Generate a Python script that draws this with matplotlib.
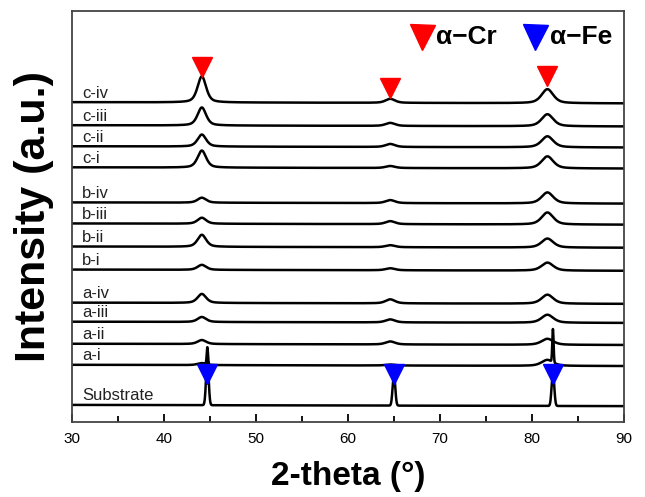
import numpy as np
import matplotlib
matplotlib.use('Agg')
from matplotlib import pyplot as plt

plt.rcParams['font.family'] = ['Liberation Sans', 'DejaVu Sans']

# sample names, bottom to top
labels = ['Substrate', 'a-i', 'a-ii', 'a-iii', 'a-iv', 'b-i', 'b-ii', 'b-iii', 'b-iv',
          'c-i', 'c-ii', 'c-iii', 'c-iv']
# vertical offsets of each pattern (stacked plot)
offsets = [17, 57, 78, 100, 119, 152, 175, 198, 219, 254, 275, 296, 319]

# alpha-Cr peak positions and heights per sample
cr_pos = [44.1, 64.6, 81.7]
cr_h = [
    [0, 0, 0],
    [2, 1, 6],
    [4, 3, 6],
    [5, 3, 8],
    [9, 4, 9],
    [5, 2, 8],
    [12, 2, 9],
    [6, 3, 12],
    [5, 3, 11],
    [17, 2, 12],
    [12, 3, 11],
    [18, 3, 12],
    [26, 4, 14],
]
cr_w = [0.55, 0.6, 0.75]

# alpha-Fe (substrate) peaks
fe_pos = [44.7, 65.0, 82.3]
sub_h = [45, 32, 34]
ai_spike = [17, 0, 33]

# marker positions
cr_mark_y = [354, 333, 345]
fe_mark_y = [48, 48, 48]


def peak(x, c, w):
    lor = 1.0 / (1.0 + ((x - c) / w) ** 2)
    gau = np.exp(-np.log(2) * ((x - c) / w) ** 2)
    return 0.5 * lor + 0.5 * gau


def run():
    x = np.linspace(30, 90, 3000)
    fig = plt.figure(figsize=(6.45, 4.97), dpi=100)
    ax = fig.add_axes([0.112, 0.151, 0.855, 0.827])

    for i, name in enumerate(labels):
        y = np.full_like(x, offsets[i]) - (x - 30) * 0.02
        for j in range(3):
            y += cr_h[i][j] * peak(x, cr_pos[j], cr_w[j])
        if name == 'Substrate':
            for j in range(3):
                y += sub_h[j] * np.exp(-0.5 * ((x - fe_pos[j]) / 0.14) ** 2)
        if name == 'a-i':
            for j in range(3):
                y += ai_spike[j] * np.exp(-0.5 * ((x - fe_pos[j]) / 0.07) ** 2)
        ax.plot(x, y, color='black', lw=1.8)
        ax.text(31.1, offsets[i] + 1.5, name, fontsize=12, color='#222222',
                ha='left', va='bottom')

    ax.plot(cr_pos, cr_mark_y, 'v', color='red', markersize=15, ls='none')
    ax.plot(fe_pos, fe_mark_y, 'v', color='blue', markersize=15, ls='none')

    # legend
    ax.plot([0.634], [0.937], 'v', color='red', markersize=18, transform=ax.transAxes)
    ax.text(0.659, 0.937, 'α−Cr', transform=ax.transAxes, fontsize=19,
            fontweight='bold', va='center')
    ax.plot([0.839], [0.937], 'v', color='blue', markersize=18, transform=ax.transAxes)
    ax.text(0.866, 0.937, 'α−Fe', transform=ax.transAxes, fontsize=19,
            fontweight='bold', va='center')

    ax.set_xlim(30, 90)
    ax.set_ylim(0, 410)
    ax.set_xticks(np.arange(30, 91, 10))
    ax.set_xticks(np.arange(35, 90, 10), minor=True)
    ax.tick_params(axis='x', direction='in', length=6, width=1.3, labelsize=11, pad=7)
    ax.tick_params(axis='x', which='minor', direction='in', length=4, width=1.3)
    ax.set_yticks([])
    for s in ax.spines.values():
        s.set_linewidth(1.3)
        s.set_color('#444444')
    ax.set_xlabel('2-theta (°)', fontsize=24, fontweight='bold', labelpad=11)
    ax.set_ylabel('Intensity (a.u.)', fontsize=31, fontweight='bold', labelpad=13)
    fig.savefig('out.png', dpi=100)


if __name__ == '__main__':
    run()
